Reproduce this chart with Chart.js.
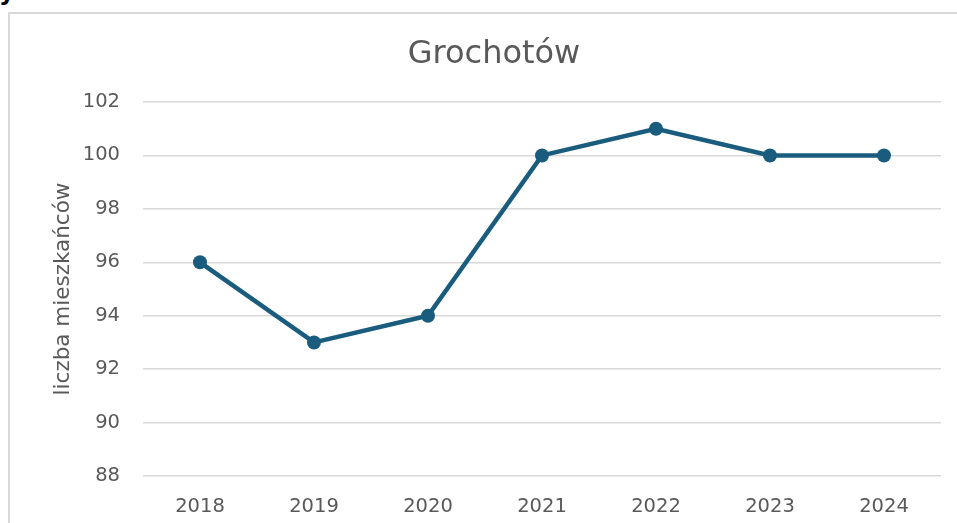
<!DOCTYPE html>
<html>
<head>
<meta charset="utf-8">
<script src="https://cdn.jsdelivr.net/npm/chart.js@4/dist/chart.umd.min.js"></script>
<style>
  html, body { margin: 0; padding: 0; background: #ffffff; overflow: hidden; }
  #wrap { position: relative; width: 957px; height: 523px; }
  #frame { position: absolute; left: 8px; top: 12px; width: 980px; height: 540px;
           border-left: 2px solid #d9d9d9; border-top: 2px solid #d9d9d9; }
  #frag { position: absolute; left: -1px; top: -20px; font: bold 24px "DejaVu Sans"; line-height: 24px; color: #000; }
  canvas { position: absolute; left: 0; top: 0; }
</style>
</head>
<body>
<div id="wrap">
  <div id="frag">y</div>
  <div id="frame"></div>
  <canvas id="c" width="957" height="523"></canvas>
</div>
<script>
const chartTitle = "Grochotów";
const yAxisTitle = "liczba mieszkańców";
const categories = ["2018", "2019", "2020", "2021", "2022", "2023", "2024"];
const residents = [96, 93, 94, 100, 101, 100, 100];
const yTicks = [88, 90, 92, 94, 96, 98, 100, 102];

const textColor = "#595959";
const lineColor = "#1a5c7d";

new Chart(document.getElementById("c"), {
  type: "line",
  data: {
    labels: categories,
    datasets: [{
      data: residents,
      borderColor: lineColor,
      backgroundColor: lineColor,
      borderWidth: 4.5,
      pointRadius: 7,
      pointHoverRadius: 7,
      pointBackgroundColor: lineColor,
      pointBorderWidth: 0,
      tension: 0,
      fill: false
    }]
  },
  options: {
    responsive: false,
    animation: false,
    devicePixelRatio: 1,
    layout: { padding: { left: 47, right: 16, top: 0, bottom: 0 } },
    plugins: {
      legend: { display: false },
      tooltip: { enabled: false },
      title: {
        display: true,
        text: chartTitle,
        color: textColor,
        font: { family: "DejaVu Sans", size: 32, weight: "normal", lineHeight: 1.2 },
        padding: { top: 35.5, bottom: 28.1 }
      }
    },
    scales: {
      x: {
        offset: true,
        grid: { display: false, drawTicks: false },
        border: { display: false },
        ticks: {
          color: textColor,
          font: { family: "DejaVu Sans", size: 19.5 },
          padding: 19,
          maxRotation: 0
        },
        afterFit: (s) => { s.height = 47; }
      },
      y: {
        min: yTicks[0],
        max: yTicks[yTicks.length - 1],
        afterBuildTicks: (s) => { s.ticks = yTicks.map(v => ({ value: v })); },
        grid: { color: "#d9d9d9", lineWidth: 1.5, drawTicks: false },
        border: { display: false },
        ticks: {
          color: textColor,
          font: { family: "DejaVu Sans", size: 19.5 },
          padding: 23
        },
        title: {
          display: true,
          text: yAxisTitle,
          color: textColor,
          font: { family: "DejaVu Sans", size: 21.5, weight: "normal", lineHeight: 1.2 },
          padding: { top: 4, bottom: 4 }
        },
        afterFit: (s) => { s.width = 96; }
      }
    }
  }
});
</script>
</body>
</html>
